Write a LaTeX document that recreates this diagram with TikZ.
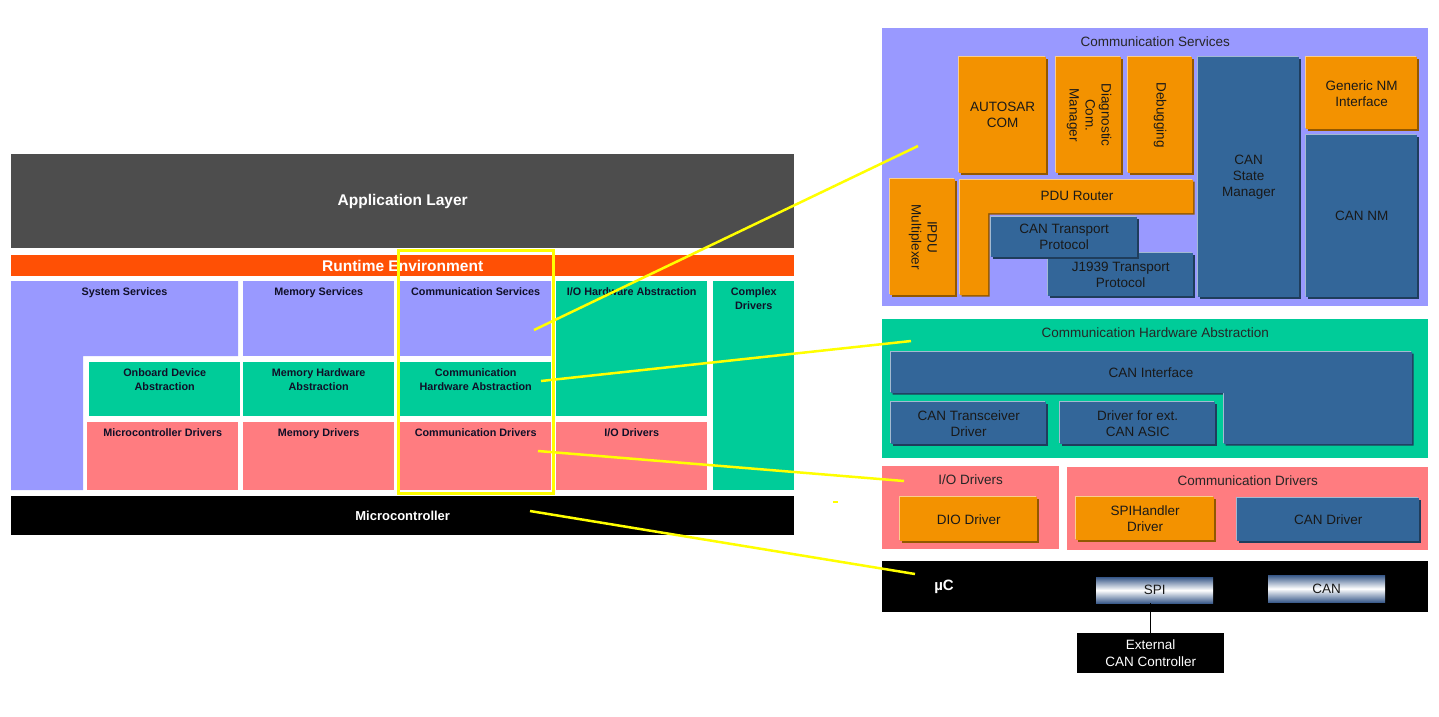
\documentclass[tikz,border=0pt]{standalone}
\usepackage{fontspec}
\setmainfont{Liberation Sans}
\usetikzlibrary{positioning}

\definecolor{appgray}{HTML}{4D4D4D}
\definecolor{rteorange}{HTML}{FF5005}
\definecolor{srvviolet}{HTML}{9999FF}
\definecolor{hwgreen}{HTML}{00CC99}
\definecolor{drvpink}{HTML}{FF7C80}
\definecolor{modorange}{HTML}{F39200}
\definecolor{modblue}{HTML}{336699}
\definecolor{gradblue}{HTML}{3A5A8A}
\definecolor{lbltext}{HTML}{101028}
\definecolor{hiliyellow}{HTML}{FFFF00}

\tikzset{
    lbox/.style={rectangle, anchor=north west, inner sep=0pt, fill=#1},
    ltext/.style={anchor=north, inner sep=0pt, yshift=-6.5pt, align=center, text=lbltext, font=\fontsize{10.8}{13.5}\selectfont\bfseries},
    lbl/.style={label={[ltext]north:#1}},
    rpanel/.style={rectangle, anchor=north west, inner sep=0pt, fill=#1},
    rtitle/.style={anchor=north, inner sep=0pt, yshift=-8.5pt, text=black!85, font=\fontsize{13.5}{16}\selectfont},
    rshape/.style={fill=#1,
        preaction={fill=#1!60!black, transform canvas={shift={(1.5pt,-1.5pt)}}},
        preaction={fill=#1!45!white, transform canvas={shift={(-1pt,1pt)}}}},
    rbox/.style={rectangle, anchor=north west, inner sep=0pt, rshape=#1, align=center, text=black!90, font=\fontsize{13.5}{16}\selectfont},
    rtext/.style={align=center, text=black!90, font=\fontsize{13.5}{16}\selectfont},
    hwport/.style={rectangle, anchor=north west, inner sep=0pt, top color=gradblue, bottom color=gradblue, middle color=white, text=black!90, font=\fontsize{13.5}{16}\selectfont},
    yline/.style={hiliyellow, line width=2.5pt}
}

\begin{document}
\begin{tikzpicture}[x=1pt, y=-1pt]
    \path[use as bounding box, fill=white] (0,0) rectangle (1439,716);

    % Left: the layered architecture
    \node[lbox=appgray, minimum width=783pt, minimum height=94pt, text=white, font=\fontsize{15.5}{18}\selectfont\bfseries] (app) at (11,154) {Application Layer};
    \node[lbox=rteorange, minimum width=783pt, minimum height=21pt, text=white, font=\fontsize{15.5}{18}\selectfont\bfseries] (rte) at (11,255) {Runtime Environment};

    \fill[srvviolet] (11,281) -- (238,281) -- (238,356) -- (83,356) -- (83,490) -- (11,490) -- cycle;
    \node[ltext] (syssrv) at (124.5,281) {System Services};
    \node[lbox=srvviolet, minimum width=151pt, minimum height=75pt, lbl={Memory Services}] (memsrv) at (243,281) {};
    \node[lbox=srvviolet, minimum width=151pt, minimum height=75pt, lbl={Communication Services}] (comsrv) at (400,281) {};
    \node[lbox=hwgreen, minimum width=151pt, minimum height=135pt, lbl={I/O Hardware Abstraction}] (iohw) at (556,281) {};
    \node[lbox=hwgreen, minimum width=81pt, minimum height=209pt, lbl={Complex\\Drivers}] (cdd) at (713,281) {};

    \node[lbox=hwgreen, minimum width=151pt, minimum height=54pt, lbl={Onboard Device\\Abstraction}] (onbhw) at (89,362) {};
    \node[lbox=hwgreen, minimum width=151pt, minimum height=54pt, lbl={Memory Hardware\\Abstraction}] (memhw) at (243,362) {};
    \node[lbox=hwgreen, minimum width=151pt, minimum height=54pt, lbl={Communication\\Hardware Abstraction}] (comhw) at (400,362) {};

    \node[lbox=drvpink, minimum width=151pt, minimum height=68pt, lbl={Microcontroller Drivers}] (mcudrv) at (87,422) {};
    \node[lbox=drvpink, minimum width=151pt, minimum height=68pt, lbl={Memory Drivers}] (memdrv) at (243,422) {};
    \node[lbox=drvpink, minimum width=151pt, minimum height=68pt, lbl={Communication Drivers}] (comdrv) at (400,422) {};
    \node[lbox=drvpink, minimum width=151pt, minimum height=68pt, lbl={I/O Drivers}] (iodrv) at (556,422) {};

    \node[lbox=black, minimum width=783pt, minimum height=39pt, text=white, font=\fontsize{13}{16}\selectfont\bfseries] (mcu) at (11,496) {Microcontroller};

    % Right: communication stack in detail
    \node[rpanel=srvviolet, minimum width=546pt, minimum height=278pt, label={[rtitle]north:Communication Services}] (comsrvp) at (882,28) {};
    \node[rbox=modorange, minimum width=87pt, minimum height=116pt] (com) at (959,57) {AUTOSAR\\COM};
    \node[rbox=modorange, minimum width=65pt, minimum height=116pt] (dcm) at (1056,57) {\rotatebox{-90}{\begin{tabular}{@{}c@{}}Diagnostic\\Com.\\Manager\end{tabular}}};
    \node[rbox=modorange, minimum width=64pt, minimum height=116pt] (dbg) at (1128,57) {\rotatebox{-90}{Debugging}};
    \node[rbox=modorange, minimum width=65pt, minimum height=116pt] (ipdum) at (890,179) {\rotatebox{-90}{\begin{tabular}{@{}c@{}}IPDU\\Multiplexer\end{tabular}}};
    \fill[rshape=modorange] (960,180) -- (1193,180) -- (1193,213) -- (988,213) -- (988,295) -- (960,295) -- cycle;
    \node[rtext] (pdur) at (1077,196) {PDU Router};
    \node[rbox=modblue, minimum width=145pt, minimum height=43pt] (j1939tp) at (1048,253) {J1939 Transport\\Protocol};
    \node[rbox=modblue, minimum width=146pt, minimum height=40pt] (cantp) at (991,217) {CAN Transport\\Protocol};
    \node[rbox=modblue, minimum width=101pt, minimum height=240pt] (cansm) at (1198,57) {CAN\\State\\Manager};
    \node[rbox=modorange, minimum width=111pt, minimum height=72pt] (gennm) at (1306,57) {Generic NM\\Interface};
    \node[rbox=modblue, minimum width=111pt, minimum height=162pt] (cannm) at (1306,135) {CAN NM};

    \node[rpanel=hwgreen, minimum width=546pt, minimum height=139pt, label={[rtitle]north:Communication Hardware Abstraction}] (comhwp) at (882,319) {};
    \fill[rshape=modblue] (891,352) -- (1412,352) -- (1412,444) -- (1224,444) -- (1224,393) -- (891,393) -- cycle;
    \node[rtext] (canif) at (1151,373) {CAN Interface};
    \node[rbox=modblue, minimum width=155pt, minimum height=42pt] (cantrcv) at (891,402) {CAN Transceiver\\Driver};
    \node[rbox=modblue, minimum width=155pt, minimum height=42pt] (extasic) at (1060,402) {Driver for ext.\\CAN ASIC};

    \node[rpanel=drvpink, minimum width=177pt, minimum height=83pt, label={[rtitle]north:I/O Drivers}] (iodrvp) at (882,466) {};
    \node[rbox=modorange, minimum width=137pt, minimum height=44pt] (dio) at (900,497) {DIO Driver};
    \node[rpanel=drvpink, minimum width=361pt, minimum height=83pt, label={[rtitle]north:Communication Drivers}] (comdrvp) at (1067,467) {};
    \node[rbox=modorange, minimum width=138pt, minimum height=43pt] (spih) at (1076,497) {SPIHandler\\Driver};
    \node[rbox=modblue, minimum width=182pt, minimum height=43pt] (candrv) at (1237,498) {CAN Driver};

    \node[rpanel=black, minimum width=546pt, minimum height=51pt] (ucp) at (882,561) {};
    \node[text=white, font=\fontsize{15}{18}\selectfont\bfseries] (uclbl) at (944,587) {µC};
    \node[hwport, minimum width=117pt, minimum height=26pt] (spi) at (1096,577) {SPI};
    \node[hwport, minimum width=117pt, minimum height=27pt] (canc) at (1268,575) {CAN};
    \node[rpanel=black, minimum width=147pt, minimum height=40pt, align=center, text=white, font=\fontsize{13.5}{16.5}\selectfont] (extcan) at (1077,633) {External\\CAN Controller};
    \draw[black, line width=1pt] (spi.south -| extcan.north) -- (extcan.north);

    % Highlight frame and zoom lines
    \node[rectangle, anchor=north west, draw=hiliyellow, line width=2.5pt, minimum width=155pt, minimum height=243pt] (focus) at (397,249) {};
    \coordinate (comsrv-in) at (534,330);
    \coordinate (comhw-in) at (541,381);
    \coordinate (comdrv-in) at (538,451);
    \coordinate (mcu-in) at (530,511);
    \coordinate (comsrvp-in) at (918,146);
    \coordinate (comhwp-in) at (911,341);
    \coordinate (iodrvp-in) at (904,481);
    \coordinate (ucp-in) at (915,574);
    \draw[yline] (comsrv-in) -- (comsrvp-in);
    \draw[yline] (comhw-in) -- (comhwp-in);
    \draw[yline] (comdrv-in) -- (iodrvp-in);
    \draw[yline] (mcu-in) -- (ucp-in);
    \fill[hiliyellow] (833,501) rectangle (838,503);
\end{tikzpicture}
\end{document}
